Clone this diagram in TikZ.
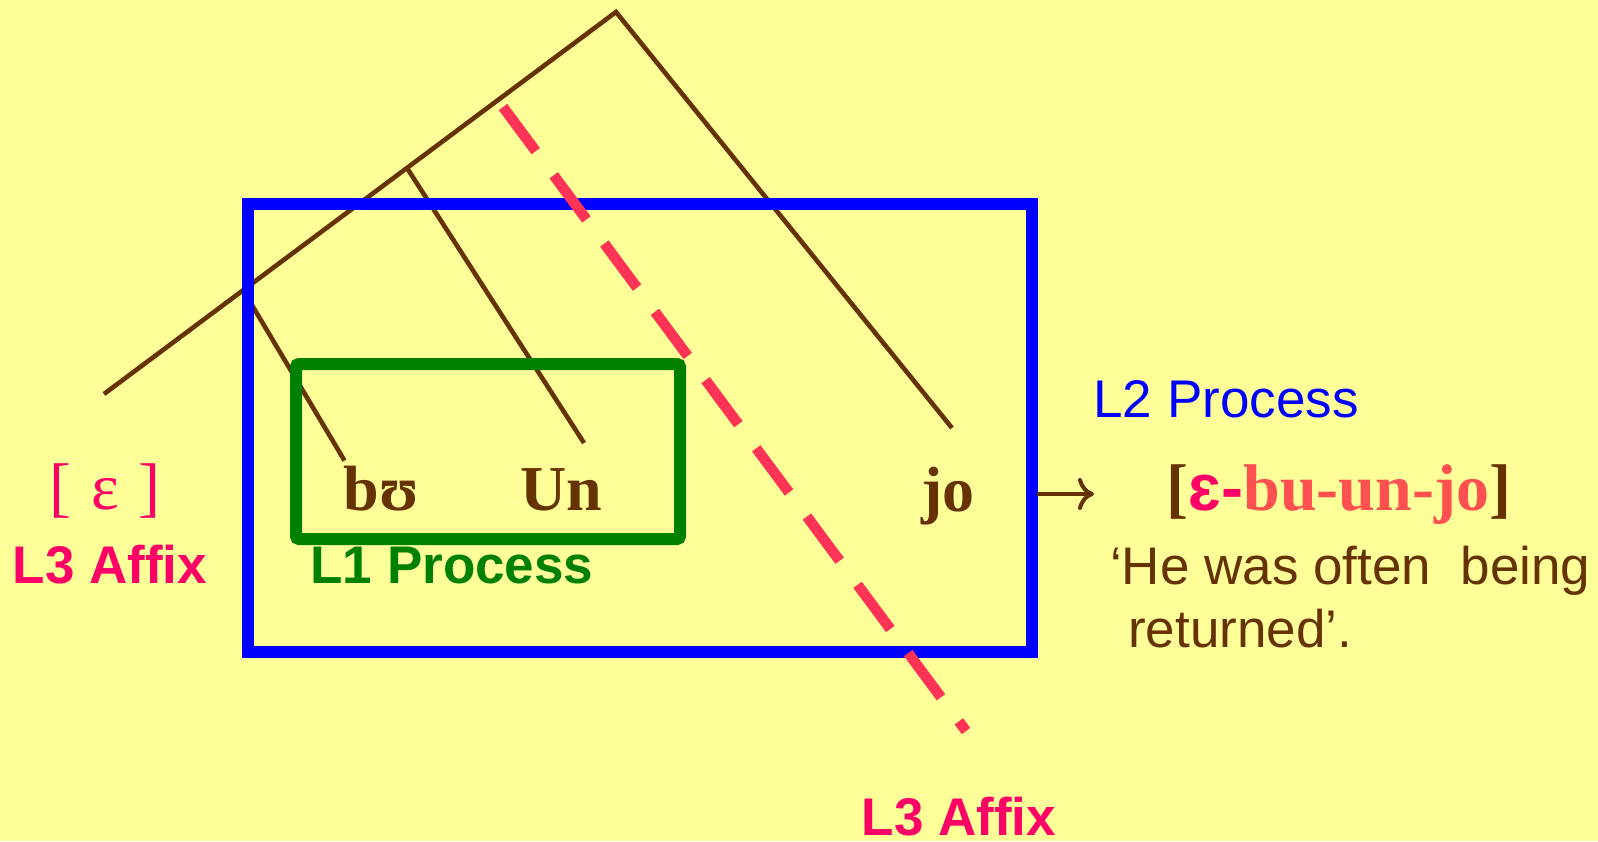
\documentclass[tikz,border=0pt]{standalone}
\usepackage{fontspec}
\setmainfont{Liberation Serif}
\setsansfont{Liberation Sans}
\usetikzlibrary{arrows.meta}
\definecolor{bgyellow}{HTML}{FFFF99}
\definecolor{treebrown}{HTML}{663300}
\definecolor{boxblue}{HTML}{0000FF}
\definecolor{boxgreen}{HTML}{008000}
\definecolor{affixpink}{HTML}{FF0066}
\definecolor{dashred}{HTML}{FF3355}
\definecolor{salmon}{HTML}{FF5050}
\tikzset{
  branch/.style={draw=treebrown, line width=4.6pt},
  sanslabel/.style={inner sep=0pt, anchor=base, font=\sffamily\bfseries\fontsize{53}{60}\selectfont},
  sansplain/.style={inner sep=0pt, font=\sffamily\fontsize{53}{60}\selectfont},
  morph/.style={inner sep=0pt, anchor=base, text=treebrown, font=\rmfamily\bfseries\fontsize{64}{70}\selectfont},
}
\begin{document}
\begin{tikzpicture}[x=1pt,y=-1pt]
\fill[bgyellow] (0,0) rectangle (1598,841);
\useasboundingbox (0,0) rectangle (1598,841);

% tree
\coordinate (apex) at (616,12);
\coordinate (leftend) at (104,394);
\coordinate (junU) at (407,168);
\coordinate (endU) at (584,443);
\coordinate (junB) at (243,290);
\coordinate (endB) at (344.5,460.6);
\coordinate (endJ) at (952,428);
\draw[branch] (leftend) -- (apex) -- (endJ);
\draw[branch] (junU) -- (endU);
\draw[branch] (junB) -- (endB);

% boxes
\draw[boxblue, line width=12pt] (248,204) rectangle (1032,652);
\draw[boxgreen, line width=12pt, rounded corners=3pt] (296,364) rectangle (680,539);

% red dashed affix line
\coordinate (dashA) at (503,107);
\coordinate (dashB) at (966,731);
\draw[dashred, line width=10.5pt, dash pattern=on 55pt off 30pt] (dashA) -- (dashB);

% morphemes
\node[morph] (bu) at (381.5,510) {bʊ};
\node[morph] (un) at (561.5,510) {Un};
\node[morph] (jo) at (948,511) {jo};
\node[inner sep=0pt, anchor=base, text=affixpink, font=\rmfamily\fontsize{66}{72}\selectfont] (eps) at (105,509) {[\hspace{0.3em}ɛ\hspace{0.3em}]};

% labels
\node[sanslabel, text=affixpink] (l3a) at (110,583) {L3 Affix};
\node[sanslabel, text=boxgreen] (l1) at (452,583) {L1 Process};
\node[sansplain, anchor=base, text=boxblue] (l2) at (1226,417) {L2 Process};
\node[sanslabel, text=affixpink] (l3b) at (959,835) {L3 Affix};

% result
\coordinate (arrA) at (1037,494);
\coordinate (arrB) at (1094,494);
\draw[treebrown, line width=4pt, -{Computer Modern Rightarrow[length=16pt,width=32pt,line width=4pt]}] (arrA) -- (arrB);
\node[morph, font=\rmfamily\bfseries\fontsize{66}{72}\selectfont] (form) at (1339,510) {[\textcolor{affixpink}{\sffamily\bfseries ɛ-}\textcolor{salmon}{bu-un-jo}]};
\node[sansplain, anchor=base west, text=treebrown] (gloss1) at (1110,584) {‘He was often~~being};
\node[sansplain, anchor=base west, text=treebrown] (gloss2) at (1128,647) {returned’.};
\end{tikzpicture}
\end{document}
